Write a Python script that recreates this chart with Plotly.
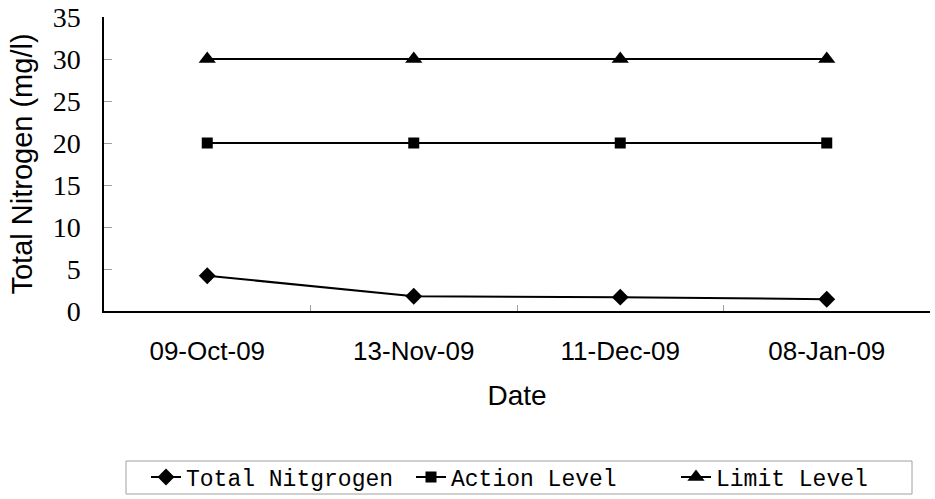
import plotly.graph_objects as go

dates = ["09-Oct-09", "13-Nov-09", "11-Dec-09", "08-Jan-09"]
total_nitrogen = [4.2, 1.75, 1.65, 1.4]
action_level = [20, 20, 20, 20]
limit_level = [30, 30, 30, 30]

fig = go.Figure()
fig.add_trace(go.Scatter(x=dates, y=total_nitrogen, name="Total Nitgrogen", mode="lines+markers",
                         line=dict(color="black", width=2),
                         marker=dict(symbol="diamond", size=13, color="black")))
fig.add_trace(go.Scatter(x=dates, y=action_level, name="Action Level", mode="lines+markers",
                         line=dict(color="black", width=2),
                         marker=dict(symbol="square", size=11, color="black")))
fig.add_trace(go.Scatter(x=dates, y=limit_level, name="Limit Level", mode="lines+markers",
                         line=dict(color="black", width=2),
                         marker=dict(symbol="triangle-up", size=15, color="black")))

# legend frame (paper coords relative to plot area 826x294)
fig.add_shape(type="rect", xref="paper", yref="paper",
              x0=(126 - 104) / 826, x1=(912 - 104) / 826,
              y0=(311 - 494) / 294, y1=(311 - 461) / 294,
              line=dict(color="#a0a0a0", width=1), fillcolor="rgba(0,0,0,0)")

fig.update_layout(
    width=935, height=499,
    margin=dict(l=104, r=5, t=17, b=188, autoexpand=False),
    paper_bgcolor="white", plot_bgcolor="white",
    showlegend=True,
    legend=dict(orientation="h", x=(146 - 104) / 826, xanchor="left",
                y=(311 - 477) / 294, yanchor="middle",
                borderwidth=0, bgcolor="rgba(0,0,0,0)",
                font=dict(family="Liberation Mono", size=23, color="black"),
                entrywidth=220, itemwidth=30),
    xaxis=dict(type="category", range=[-0.5, 3.5], tickson="boundaries",
               automargin=False,
               showline=True, linecolor="black", linewidth=2,
               ticks="inside", ticklen=6, tickcolor="#a0a0a0",
               ticklabelstandoff=16,
               showgrid=False, zeroline=False,
               tickfont=dict(family="Liberation Sans", size=26, color="black"),
               title=dict(text="Date", font=dict(family="Liberation Sans", size=28, color="black"),
                          standoff=20)),
    yaxis=dict(range=[0, 35], dtick=5, showline=True, linecolor="black", linewidth=1.5,
               automargin=False,
               ticks="inside", ticklen=8, tickcolor="#a0a0a0",
               ticklabelstandoff=16,
               showgrid=False, zeroline=False,
               tickfont=dict(family="Liberation Serif", size=28, color="black"),
               title=dict(text="Total Nitrogen (mg/l)", font=dict(family="Liberation Sans", size=29, color="black"),
                          standoff=12)),
)

fig.write_html("out.html", config={"displayModeBar": False},
               post_script="document.body.style.margin='0';")
